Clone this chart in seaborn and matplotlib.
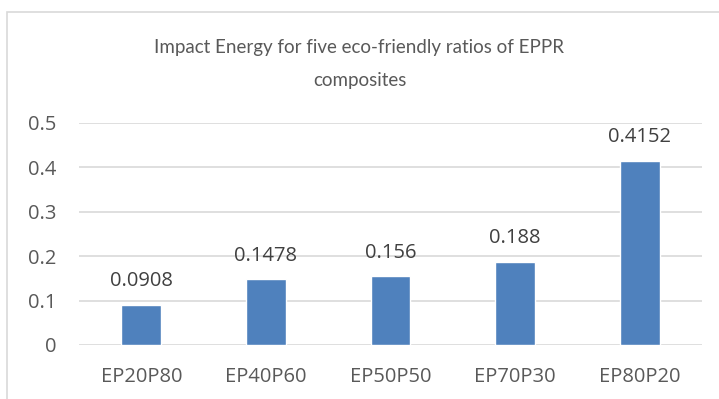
import matplotlib
matplotlib.use("Agg")
import matplotlib.pyplot as plt
import seaborn as sns
import pandas as pd
from matplotlib.patches import Rectangle

categories = ["EP20P80", "EP40P60", "EP50P50", "EP70P30", "EP80P20"]
values = [0.0908, 0.1478, 0.156, 0.188, 0.4152]
value_labels = ["0.0908", "0.1478", "0.156", "0.188", "0.4152"]
yticks = [0, 0.1, 0.2, 0.3, 0.4, 0.5]
ytick_labels = ["0", "0.1", "0.2", "0.3", "0.4", "0.5"]
title = "Impact Energy for five eco-friendly ratios of EPPR\ncomposites"

sns.set_theme(style="white")
plt.rcParams['font.family'] = ['Open Sans', 'DejaVu Sans']

df = pd.DataFrame({"cat": categories, "val": values})

fig = plt.figure(figsize=(7.19, 3.99), dpi=100)
ax = fig.add_axes([79/719, 1-345/399, (702-79)/719, (345-123)/399])

sns.barplot(data=df, x="cat", y="val", color="#4F81BD", saturation=1,
            width=0.32, ax=ax, zorder=3)

ax.set_ylim(0, 0.5)
ax.set_xlim(-0.5, 4.5)
ax.set_yticks(yticks)
ax.set_yticklabels(ytick_labels)
ax.yaxis.grid(True, color="#D9D9D9", linewidth=1.2, zorder=0)
ax.set_axisbelow(True)
for s in ax.spines.values():
    s.set_visible(False)
ax.set_xlabel("")
ax.set_ylabel("")
ax.tick_params(axis="both", length=0, labelsize=14.5, colors="#595959")
ax.tick_params(axis="y", pad=16.5)
ax.tick_params(axis="x", pad=16)

for i, (v, lab) in enumerate(zip(values, value_labels)):
    ax.annotate(lab, (i, v), xytext=(0, 9.5), textcoords="offset points",
                ha="center", va="bottom", fontsize=14.5, color="#404040")

fig.text(0.5, 1-64/399, title, ha="center", va="center", fontsize=13.5,
         color="#595959", linespacing=2.1,
         family=['Lato', 'DejaVu Sans'])

fig.patches.append(Rectangle((7/719, -0.1), 1.1, 1-12/399+0.1,
                             transform=fig.transFigure, fill=False,
                             edgecolor="#D9D9D9", linewidth=1.2))

fig.savefig("out.png", dpi=100)
